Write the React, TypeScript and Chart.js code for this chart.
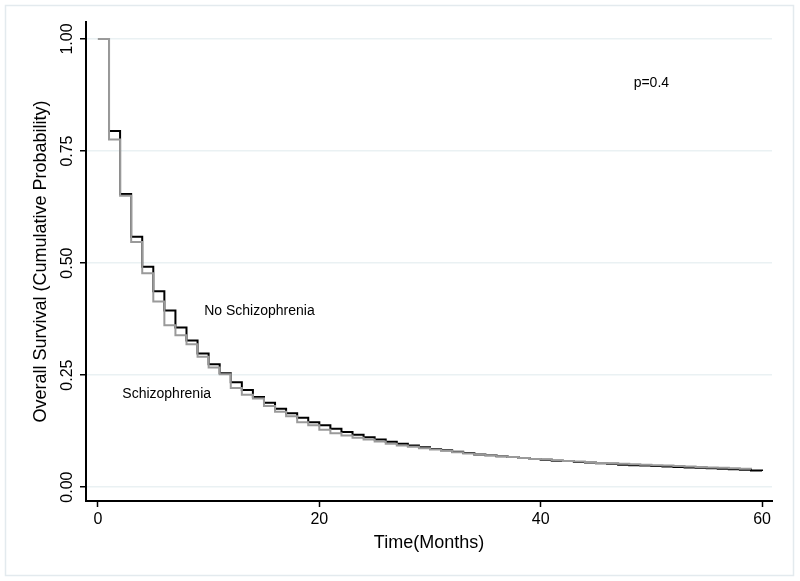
import React, { useEffect, useRef } from "react";
import { Chart, registerables } from "chart.js";

Chart.register(...registerables);

const months = [
  0, 1, 2, 3, 4, 5, 6, 7, 8, 9, 10, 11, 12, 13, 14, 15, 16, 17, 18, 19, 20,
  21, 22, 23, 24, 25, 26, 27, 28, 29, 30, 31, 32, 33, 34, 35, 36, 37, 38, 39, 40,
  41, 42, 43, 44, 45, 46, 47, 48, 49, 50, 51, 52, 53, 54, 55, 56, 57, 58, 59, 60,
];

const noSchizophrenia = [
  1.0, 0.795, 0.654, 0.559, 0.492, 0.437, 0.394, 0.356, 0.327, 0.298, 0.274,
  0.254, 0.234, 0.217, 0.201, 0.188, 0.175, 0.165, 0.155, 0.145, 0.138,
  0.13, 0.123, 0.117, 0.111, 0.106, 0.101, 0.097, 0.093, 0.089, 0.085,
  0.082, 0.079, 0.076, 0.073, 0.071, 0.069, 0.067, 0.065, 0.063, 0.061,
  0.059, 0.058, 0.056, 0.055, 0.053, 0.052, 0.05, 0.049, 0.048, 0.047,
  0.046, 0.045, 0.044, 0.043, 0.042, 0.041, 0.04, 0.039, 0.037, 0.036,
];

const schizophrenia = [
  1.0, 0.776, 0.65, 0.547, 0.477, 0.414, 0.361, 0.339, 0.319, 0.291, 0.267,
  0.252, 0.221, 0.206, 0.198, 0.181, 0.168, 0.158, 0.145, 0.138, 0.128,
  0.12, 0.115, 0.11, 0.106, 0.102, 0.097, 0.093, 0.09, 0.087, 0.084,
  0.081, 0.078, 0.075, 0.073, 0.071, 0.069, 0.067, 0.065, 0.063, 0.062,
  0.06, 0.058, 0.057, 0.056, 0.054, 0.053, 0.052, 0.051, 0.05, 0.049,
  0.048, 0.047, 0.046, 0.045, 0.044, 0.043, 0.042, 0.041, 0.04,
];

const xTicks = [0, 20, 40, 60];
const xTickLabels = ["0", "20", "40", "60"];
const yTicks = [0, 0.25, 0.5, 0.75, 1];
const yTickLabels = ["0.00", "0.25", "0.50", "0.75", "1.00"];
const xTitle = "Time(Months)";
const yTitle = "Overall Survival (Cumulative Probability)";
const annotationTexts = ["p=0.4", "No Schizophrenia", "Schizophrenia"];
const annotationX = [48.4, 9.6, 2.2];
const annotationY = [0.902, 0.393, 0.208];

const FONT = "'Liberation Sans', Arial, Helvetica, sans-serif";

const textPlugin = {
  id: "textPlugin",
  beforeDraw(chart: any) {
    const ctx = chart.ctx;
    ctx.save();
    ctx.fillStyle = "#ffffff";
    ctx.fillRect(0, 0, chart.width, chart.height);
    ctx.strokeStyle = "#e3eaee";
    ctx.lineWidth = 1.5;
    ctx.strokeRect(5.5, 5.5, 788, 570);
    ctx.restore();
  },
  afterDraw(chart: any) {
    const ctx = chart.ctx;
    const xs = chart.scales.x;
    const ys = chart.scales.y;
    const area = chart.chartArea;
    ctx.save();
    ctx.fillStyle = "#000000";
    // x tick labels
    ctx.font = `16px ${FONT}`;
    ctx.textAlign = "center";
    ctx.textBaseline = "middle";
    xTicks.forEach((v, i) => {
      ctx.fillText(xTickLabels[i], xs.getPixelForValue(v), area.bottom + 19);
    });
    // y tick labels (rotated)
    yTicks.forEach((v, i) => {
      ctx.save();
      ctx.translate(area.left - 18, ys.getPixelForValue(v));
      ctx.rotate(-Math.PI / 2);
      ctx.fillText(yTickLabels[i], 0, 0);
      ctx.restore();
    });
    // titles
    ctx.font = `18px ${FONT}`;
    ctx.fillText(xTitle, (area.left + area.right) / 2, area.bottom + 42);
    ctx.save();
    ctx.translate(area.left - 45, (area.top + area.bottom) / 2);
    ctx.rotate(-Math.PI / 2);
    ctx.fillText(yTitle, 0, 0);
    ctx.restore();
    // annotations
    ctx.font = `14px ${FONT}`;
    ctx.textAlign = "left";
    annotationTexts.forEach((t, i) => {
      ctx.fillText(t, xs.getPixelForValue(annotationX[i]), ys.getPixelForValue(annotationY[i]));
    });
    ctx.restore();
  },
};

export default function App() {
  const ref = useRef<HTMLCanvasElement | null>(null);
  useEffect(() => {
    if (!ref.current) return;
    const chart = new Chart(ref.current, {
      type: "line",
      data: {
        datasets: [
          {
            label: "Schizophrenia",
            data: schizophrenia.map((v, i) => ({ x: months[i], y: v })),
            borderColor: "#9a9a9a",
            borderWidth: 2,
            pointRadius: 0,
            stepped: "before",
            fill: false,
          },
          {
            label: "No Schizophrenia",
            data: noSchizophrenia.map((v, i) => ({ x: months[i], y: v })),
            borderColor: "#000000",
            borderWidth: 2,
            pointRadius: 0,
            stepped: "before",
            fill: false,
          },
        ],
      },
      options: {
        responsive: false,
        animation: false,
        devicePixelRatio: 1,
        layout: { padding: { left: 80, right: 28, top: 22, bottom: 74 } },
        plugins: {
          legend: { display: false },
          tooltip: { enabled: false },
        },
        scales: {
          x: {
            type: "linear",
            min: -1.08,
            max: 60.9,
            afterBuildTicks: (s: any) => {
              s.ticks = xTicks.map((v) => ({ value: v }));
            },
            ticks: { display: false },
            grid: {
              drawOnChartArea: false,
              drawTicks: true,
              tickLength: 6,
              tickColor: "#000000",
              tickWidth: 1.5,
            },
            border: { display: true, color: "#000000", width: 2 },
          },
          y: {
            type: "linear",
            min: -0.031,
            max: 1.038,
            afterBuildTicks: (s: any) => {
              s.ticks = yTicks.map((v) => ({ value: v }));
            },
            ticks: { display: false },
            grid: {
              drawOnChartArea: true,
              color: "#eaf1f3",
              lineWidth: 1.5,
              drawTicks: true,
              tickLength: 6,
              tickColor: "#000000",
              tickWidth: 1.5,
            },
            border: { display: true, color: "#000000", width: 2 },
          },
        },
      },
      plugins: [textPlugin],
    });
    return () => chart.destroy();
  }, []);
  return (
    <div style={{ position: "absolute", left: 0, top: 0, width: 800, height: 581 }}>
      <canvas ref={ref} width={800} height={581} style={{ display: "block" }} />
    </div>
  );
}
